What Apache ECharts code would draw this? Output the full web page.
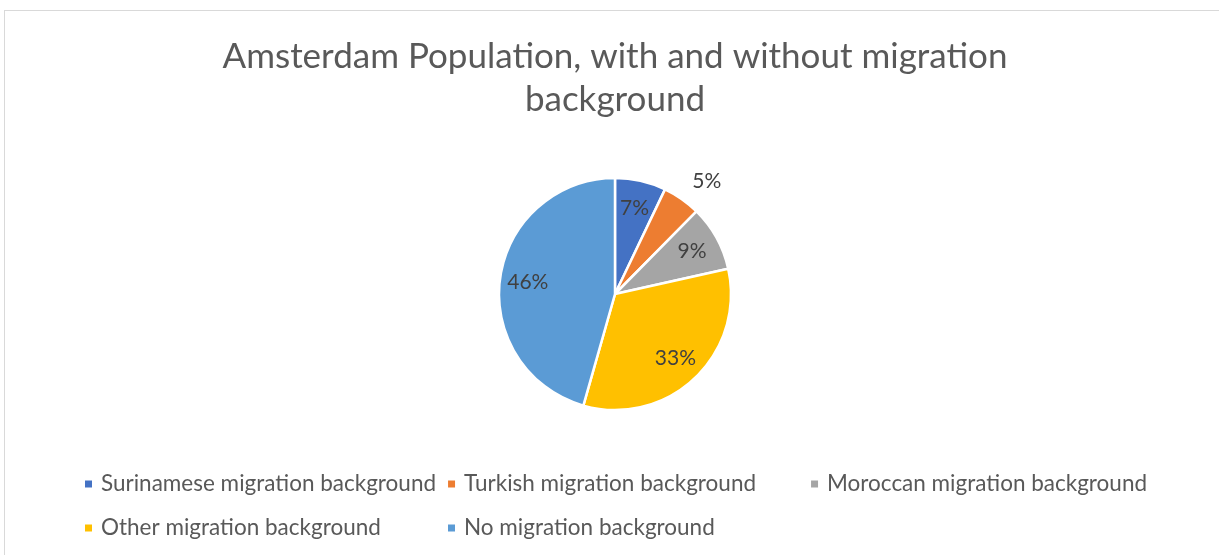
<!DOCTYPE html>
<html>
<head>
<meta charset="utf-8">
<script src="https://cdn.jsdelivr.net/npm/echarts@6/dist/echarts.min.js"></script>
<style>
  html, body { margin: 0; padding: 0; background: #fff; overflow: hidden; }
  #frame { position: absolute; left: 4px; top: 10px; width: 1240px; height: 600px; border: 1px solid #d9d9d9; }
  #chart { position: absolute; left: 0; top: 0; width: 1230px; height: 555px; }
</style>
</head>
<body>
<div id="frame"></div>
<div id="chart"></div>
<script>
  var categories = ['Surinamese migration background', 'Turkish migration background', 'Moroccan migration background', 'Other migration background', 'No migration background'];
  var shares = [7.1, 5.3, 9.1, 32.9, 45.6];
  var outsideLabel = [false, true, false, false, false];

  var colors = ['#4472C4', '#ED7D31', '#A5A5A5', '#FFC000', '#5B9BD5'];
  var font = 'Lato, "Open Sans", sans-serif';

  var chart = echarts.init(document.getElementById('chart'));

  var pctLabel = function (p) {
    return Math.round(p.percent) + '%';
  };

  var mainData = categories.map(function (name, i) {
    return {
      name: name,
      value: shares[i],
      label: { show: outsideLabel[i] }
    };
  });

  // transparent copy of the pie, wider, only used to place the inside labels
  var labelData = categories.map(function (name, i) {
    return {
      name: name,
      value: shares[i],
      label: { show: !outsideLabel[i] }
    };
  });

  var option = {
    color: colors,
    animation: false,
    title: {
      text: 'Amsterdam Population, with and without migration\nbackground',
      left: 'center',
      top: 30,
      textStyle: {
        fontFamily: font,
        fontSize: 35,
        fontWeight: 'normal',
        color: '#595959',
        lineHeight: 43
      }
    },
    legend: {
      left: 83,
      top: 467,
      width: 1120,
      padding: 0,
      icon: 'rect',
      itemWidth: 9,
      itemHeight: 9,
      itemGap: 10,
      data: categories,
      textStyle: {
        fontFamily: font,
        fontSize: 22.5,
        color: '#595959',
        width: 335,
        overflow: 'none',
        lineHeight: 34,
        padding: [0, 0, 0, 3]
      }
    },
    series: [
      {
        type: 'pie',
        center: [615, 294],
        radius: 116,
        startAngle: 90,
        clockwise: true,
        avoidLabelOverlap: false,
        itemStyle: { borderColor: '#fff', borderWidth: 2.5 },
        label: {
          position: 'outside',
          formatter: pctLabel,
          fontFamily: font,
          fontSize: 21,
          color: '#404040'
        },
        labelLine: { show: false, length: 22, length2: -7 },
        emphasis: { disabled: true },
        data: mainData
      },
      {
        type: 'pie',
        silent: true,
        center: [615, 294],
        radius: [0, 170],
        startAngle: 90,
        clockwise: true,
        avoidLabelOverlap: false,
        itemStyle: { color: 'rgba(0,0,0,0)', borderWidth: 0 },
        label: {
          position: 'inside',
          formatter: pctLabel,
          fontFamily: font,
          fontSize: 21,
          color: '#404040'
        },
        labelLine: { show: false },
        emphasis: { disabled: true },
        data: labelData
      }
    ]
  };

  chart.setOption(option);
</script>
</body>
</html>
